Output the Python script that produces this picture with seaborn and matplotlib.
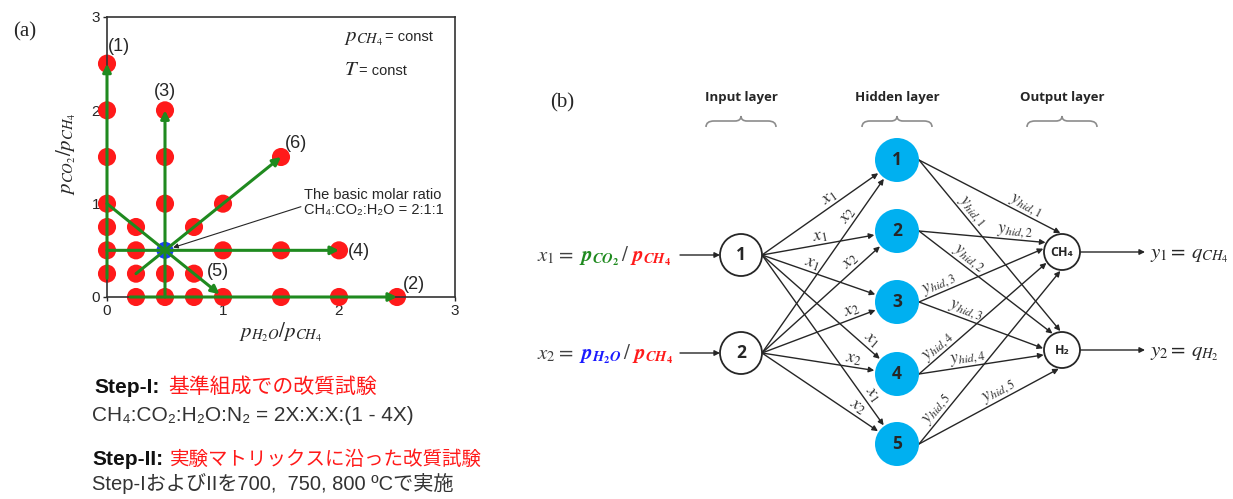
import numpy as np
import pandas as pd
import matplotlib
matplotlib.use("Agg")
import matplotlib.pyplot as plt
import seaborn as sns
from matplotlib.patches import Circle, PathPatch
from matplotlib.path import Path

sns.set_style("ticks")
plt.rcParams['font.family'] = ['Liberation Sans', 'Noto Sans CJK JP', 'DejaVu Sans']
plt.rcParams['mathtext.fontset'] = 'stix'

# ---------------- (a) experimental matrix ----------------
h2o_ratio = [0, 0, 0, 0, 0, 0, 0,
             0.25, 0.25, 0.25, 0.25,
             0.5, 0.5, 0.5, 0.5, 0.5,
             0.75, 0.75, 0.75,
             1, 1, 1,
             1.5, 1.5, 1.5,
             2, 2,
             2.5]
co2_ratio = [2.5, 2, 1.5, 1, 0.75, 0.5, 0.25,
             0.75, 0.5, 0.25, 0,
             2, 1.5, 1, 0.25, 0,
             0.75, 0.25, 0,
             1, 0.5, 0,
             1.5, 0.5, 0,
             0.5, 0,
             0]
base_h2o = [0.5]
base_co2 = [0.5]

# variation routes through the matrix
route_ids = ["(1)", "(2)", "(3)", "(4)", "(5)", "(6)"]
route_x0 = [0.0, 0.2, 0.5, 0.0, 0.0, 0.25]
route_y0 = [0.2, 0.0, 0.0, 0.5, 1.0, 0.25]
route_x1 = [0.0, 2.5, 0.5, 2.0, 0.97, 1.5]
route_y1 = [2.5, 0.0, 2.0, 0.5, 0.03, 1.5]
route_label_x = [0.1, 2.65, 0.5, 2.17, 0.96, 1.63]
route_label_y = [2.68, 0.13, 2.2, 0.49, 0.27, 1.65]

axis_ticks = [0, 1, 2, 3]

# ---------------- (b) neural network ----------------
layer_titles = ["Input layer", "Hidden layer", "Output layer"]
layer_x = [741, 897, 1062]
input_labels = ["1", "2"]
input_y = [255, 353]
hidden_labels = ["1", "2", "3", "4", "5"]
hidden_y = [160, 231, 302, 374, 444]
output_labels = ["CH₄", "H₂"]
output_y = [252, 350]
r_in, r_hid, r_out = 21, 22, 18

input_edge_text = [r"$x_1$", r"$x_2$"]
input_label_frac = [[0.62, 0.53, 0.42, 0.88, 0.85],
                    [0.76, 0.80, 0.82, 0.80, 0.78]]
hidden_edge_text = [r"$y_{hid,1}$", r"$y_{hid,2}$", r"$y_{hid,3}$",
                    r"$y_{hid,4}$", r"$y_{hid,5}$"]
hidden_label_frac = [[0.73, 0.33], [0.75, 0.33], [0.19, 0.35],
                     [0.19, 0.40], [0.17, 0.60]]
# where each hidden->output arrow meets the output circle (degrees, CCW from +x)
output_entry_deg = [[95, 95], [150, 120], [170, 175], [215, 195], [265, 260]]

GREEN = "#1f8a1f"
RED = "#ff1a1a"
BLUE_NODE = "#00b0f0"
INK = "#262626"

fig = plt.figure(figsize=(12.33, 4.99), dpi=100)

# full-figure canvas in pixel units for the network and notes
net = fig.add_axes([0, 0, 1, 1])
net.set_xlim(0, 1233)
net.set_ylim(499, 0)
net.axis("off")
renderer = fig.canvas.get_renderer()


def arrow(ax, p0, p1, color=INK, lw=1.0, ms=8, z=1):
    ax.annotate("", xy=p1, xytext=p0, zorder=z,
                arrowprops=dict(arrowstyle="-|>", color=color, lw=lw,
                                mutation_scale=ms, shrinkA=0, shrinkB=0))


def toward(p0, c, r):
    d = np.array(c, float) - np.array(p0, float)
    L = np.hypot(*d)
    return tuple(np.array(c, float) - d / L * r)


def on_circle(c, r, deg):
    a = np.radians(deg)
    return (c[0] + r * np.cos(a), c[1] - r * np.sin(a))


def edge_label(ax, p0, p1, frac, text, size):
    x = p0[0] + frac * (p1[0] - p0[0])
    y = p0[1] + frac * (p1[1] - p0[1])
    ang = np.degrees(np.arctan2(-(p1[1] - p0[1]), p1[0] - p0[0]))
    ax.text(x, y, text, rotation=ang, rotation_mode="anchor", ha="center",
            va="bottom", fontsize=size, color="#333333", zorder=4)


def pieces(ax, x, y, parts, size, **kw):
    """Draw (text, colour, gap) runs one after another on a common baseline."""
    for s, c, gap in parts:
        t = ax.text(x, y, s, color=c, fontsize=size, ha="left",
                    va="baseline", **kw)
        x += t.get_window_extent(renderer=renderer).width + gap
    return x


def brace(ax, xc, y, w):
    x0, x1 = xc - w / 2, xc + w / 2
    verts = [(x0, y + 6), (x0, y), (x0 + 8, y), (xc - 6, y), (xc, y), (xc, y - 5),
             (xc, y), (xc + 6, y), (x1 - 8, y), (x1, y), (x1, y + 6)]
    codes = [Path.MOVETO, Path.CURVE3, Path.CURVE3, Path.LINETO, Path.CURVE3,
             Path.CURVE3, Path.CURVE3, Path.CURVE3, Path.LINETO, Path.CURVE3,
             Path.CURVE3]
    ax.add_patch(PathPatch(Path(verts, codes), fc="none", ec="#8c8c8c", lw=1.2))


# layer headings and braces
for title, lx in zip(layer_titles, layer_x):
    net.text(lx, 97, title, ha="center", va="center", fontsize=9.5,
             fontweight="bold", family=["Open Sans", "DejaVu Sans"], color=INK)
    brace(net, lx, 121, 70)

# input -> hidden connections
for i, iy in enumerate(input_y):
    p0 = (layer_x[0] + r_in, iy)
    for j, hy in enumerate(hidden_y):
        p1 = toward(p0, (layer_x[1], hy), r_hid + 1)
        arrow(net, p0, p1)
        edge_label(net, p0, p1, input_label_frac[i][j], input_edge_text[i], 13)

# hidden -> output connections
for j, hy in enumerate(hidden_y):
    p0 = (layer_x[1] + r_hid, hy)
    for k, oy in enumerate(output_y):
        p1 = on_circle((layer_x[2], oy), r_out + 1, output_entry_deg[j][k])
        arrow(net, p0, p1)
        edge_label(net, p0, p1, hidden_label_frac[j][k], hidden_edge_text[j], 12.5)

# nodes
for lab, iy in zip(input_labels, input_y):
    net.add_patch(Circle((layer_x[0], iy), r_in, fc="white", ec=INK, lw=1.3, zorder=3))
    net.text(layer_x[0], iy, lab, ha="center", va="center", fontsize=12.5,
             fontweight="bold", family=["Open Sans", "DejaVu Sans"], zorder=4)
for lab, hy in zip(hidden_labels, hidden_y):
    net.add_patch(Circle((layer_x[1], hy), r_hid, fc=BLUE_NODE, ec="none", zorder=3))
    net.text(layer_x[1], hy, lab, ha="center", va="center", fontsize=12.5,
             fontweight="bold", family=["Open Sans", "DejaVu Sans"], zorder=4)
for lab, oy in zip(output_labels, output_y):
    net.add_patch(Circle((layer_x[2], oy), r_out, fc="white", ec=INK, lw=1.3, zorder=3))
    net.text(layer_x[2], oy, lab, ha="center", va="center", fontsize=9,
             fontweight="bold", family=["Open Sans", "DejaVu Sans"], zorder=4)

# input feeds and output targets
for iy in input_y:
    arrow(net, (680, iy), (layer_x[0] - r_in, iy))
for oy in output_y:
    arrow(net, (layer_x[2] + r_out, oy), (1145, oy))

pieces(net, 537, 261, [(r"$x_1=$", "#404040", 6),
                       (r"$\mathbfit{p}_{\mathbfit{CO}_{\mathbf{2}}}$", GREEN, 1),
                       (r"$/$", "#404040", 1),
                       (r"$\mathbfit{p}_{\mathbfit{CH}_{\mathbf{4}}}$", RED, 0)], 15)
pieces(net, 537, 359, [(r"$x_2=$", "#404040", 6),
                       (r"$\mathbfit{p}_{\mathbfit{H}_{\mathbf{2}}\mathbfit{O}}$", "#1a1aff", 1),
                       (r"$/$", "#404040", 1),
                       (r"$\mathbfit{p}_{\mathbfit{CH}_{\mathbf{4}}}$", RED, 0)], 15)
pieces(net, 1150, 258, [(r"$y_1=$", INK, 5), (r"$q_{CH_4}$", INK, 0)], 15)
pieces(net, 1150, 356, [(r"$y_2=$", INK, 5), (r"$q_{H_2}$", INK, 0)], 15)

net.text(562, 103, "(b)", fontsize=15, family="Liberation Serif", ha="center",
         va="center", color=INK)
fig.text(25 / 1233, 1 - 32 / 499, "(a)", fontsize=15, family="Liberation Serif",
         ha="center", va="center", color=INK)

# experiment notes
x_next = pieces(net, 94, 393, [("Step-I:", "#111111", 9)], 15, fontweight="bold")
net.text(x_next, 393, "基準組成での改質試験", fontsize=15, color=RED, va="baseline",
         family=["Noto Sans CJK JP"])
net.text(92, 421, "CH₄:CO₂:H₂O:N₂ = 2X:X:X:(1 - 4X)", fontsize=15, color="#333333",
         va="baseline")
x_next = pieces(net, 92, 465, [("Step-II:", "#111111", 7)], 15, fontweight="bold")
net.text(x_next, 465, "実験マトリックスに沿った改質試験", fontsize=14, color=RED,
         va="baseline", family=["Noto Sans CJK JP"])
net.text(92, 490, "Step-IおよびIIを700,  750, 800 ºCで実施", fontsize=14.5,
         color="#333333", va="baseline")

# constant-condition notes for panel (a)
x_next = pieces(net, 344, 41, [(r"$p_{CH_4}$", INK, 2)], 15)
net.text(x_next, 41, "= const", fontsize=10.5, color=INK, va="baseline")
x_next = pieces(net, 344, 75, [(r"$T$", INK, 0)], 15)
net.text(x_next, 75, "= const", fontsize=10.5, color=INK, va="baseline")

# ---------------- panel (a) axes ----------------
ax = fig.add_axes([107 / 1233, 1 - 297 / 499, 348 / 1233, 280 / 499])
pts = pd.DataFrame({"h2o": h2o_ratio, "co2": co2_ratio})
sns.scatterplot(data=pts, x="h2o", y="co2", ax=ax, color=RED, s=170,
                edgecolor="none", zorder=2, clip_on=False)
for x0, y0, x1, y1 in zip(route_x0, route_y0, route_x1, route_y1):
    ax.annotate("", xy=(x1, y1), xytext=(x0, y0), zorder=3,
                arrowprops=dict(arrowstyle="-|>", color=GREEN, lw=2.2,
                                mutation_scale=12, shrinkA=0, shrinkB=0))
sns.scatterplot(x=base_h2o, y=base_co2, ax=ax, color="#1a3cff", s=150,
                edgecolor="none", zorder=2)
for lab, lx, ly in zip(route_ids, route_label_x, route_label_y):
    ax.text(lx, ly, lab, fontsize=13, ha="center", va="center", color=INK)

ax.annotate("The basic molar ratio\nCH₄:CO₂:H₂O = 2:1:1",
            xy=(0.57, 0.53), xytext=(1.70, 1.01), fontsize=10.5, color=INK,
            ha="left", va="center", linespacing=1.1,
            arrowprops=dict(arrowstyle="-|>", color=INK, lw=0.8,
                            mutation_scale=7, shrinkA=0, shrinkB=0,
                            relpos=(0, 0.4)))

ax.set_xlim(0, 3)
ax.set_ylim(0, 3)
ax.set_xticks(axis_ticks)
ax.set_yticks(axis_ticks)
ax.set_xticks([0.5, 1.5, 2.5], minor=True)
ax.set_yticks([0.5, 1.5, 2.5], minor=True)
ax.tick_params(which="major", direction="out", length=3, width=1, labelsize=11,
               colors=INK, pad=2)
ax.tick_params(which="minor", direction="out", length=3, width=1, colors=INK)
ax.set_xlabel(r"$p_{H_2O}/p_{CH_4}$", fontsize=15, color=INK, labelpad=2)
ax.set_ylabel(r"$p_{CO_2}/p_{CH_4}$", fontsize=15, color=INK)
ax.yaxis.set_label_coords(-0.083, 0.51)
for sp in ax.spines.values():
    sp.set_color("#333333")
    sp.set_linewidth(1.2)
ax.patch.set_alpha(0)

fig.savefig("out.png", dpi=100)
